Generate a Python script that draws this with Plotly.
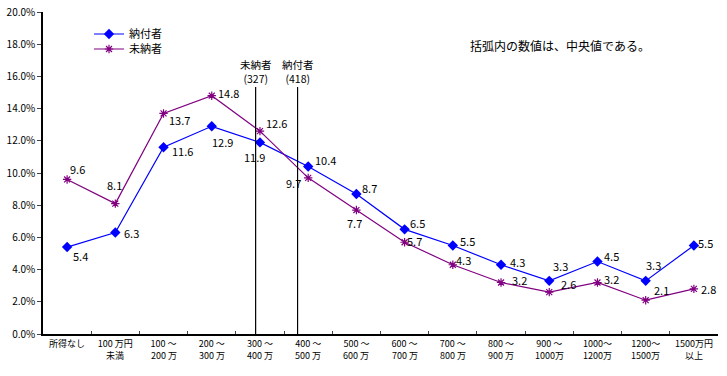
import plotly.graph_objects as go

categories = ["所得なし", "100万円未満", "100～200万", "200～300万", "300～400万", "400～500万",
              "500～600万", "600～700万", "700～800万", "800～900万", "900～1000万",
              "1000～1200万", "1200～1500万", "1500万円以上"]
tick_line1 = ["所得なし", "100 万円", "100 ～", "200 ～", "300 ～", "400 ～", "500 ～", "600 ～",
              "700 ～", "800 ～", "900 ～", "1000～", "1200～", "1500万円"]
tick_line2 = ["", "未満", "200 万", "300 万", "400 万", "500 万", "600 万", "700 万",
              "800 万", "900 万", "1000万", "1200万", "1500万", "以上"]
paid = [5.4, 6.3, 11.6, 12.9, 11.9, 10.4, 8.7, 6.5, 5.5, 4.3, 3.3, 4.5, 3.3, 5.5]
unpaid = [9.6, 8.1, 13.7, 14.8, 12.6, 9.7, 7.7, 5.7, 4.3, 3.2, 2.6, 3.2, 2.1, 2.8]
series_names = ["納付者", "未納者"]
median_names = ["未納者", "納付者"]
median_values = [327, 418]
median_pos = [3.91, 4.78]  # position on the category scale
note_text = "括弧内の数値は、中央値である。"
y_ticks = [0, 2, 4, 6, 8, 10, 12, 14, 16, 18, 20]
y_tick_labels = [f"{v:.1f}%" for v in y_ticks]

# label offsets (pixels, dx right, dy down)
paid_off = [(13, 9), (16, 0), (19, 4), (11, 16), (-5, 15), (17, -7), (13, -6), (13, -6),
            (15, -4), (16, -3), (11, -15), (14, -6), (8, -16), (12, -2)]
unpaid_off = [(10, -10), (-1, -19), (16, 7), (17, -3), (17, -8), (-15, 5), (-2, 13), (10, -1),
              (11, -5), (18, -2), (19, -8), (14, -3), (16, -10), (15, 0)]

FONT = "Noto Sans CJK JP"
BLUE = "#0000FF"
PURPLE = "#800080"

PL, PR, PT, PB = 43, 718, 12, 334  # plot area in window pixels
W, H = 727, 376
PH = PB - PT


def py(ypix):
    return (PB - ypix) / PH


fig = go.Figure()
fig.add_trace(go.Scatter(x=categories, y=paid, name=series_names[0], mode="lines+markers",
                         legend="legend",
                         line=dict(color=BLUE, width=1.2),
                         marker=dict(symbol="diamond", size=8, color=BLUE)))
fig.add_trace(go.Scatter(x=categories, y=unpaid, name=series_names[1], mode="lines+markers",
                         legend="legend2",
                         line=dict(color=PURPLE, width=1.2),
                         marker=dict(symbol="asterisk-open", size=7, color=PURPLE,
                                     line=dict(color=PURPLE, width=1.2))))

annotations = []
for vals, offs in ((paid, paid_off), (unpaid, unpaid_off)):
    for i, (v, (dx, dy)) in enumerate(zip(vals, offs)):
        annotations.append(dict(x=i, y=v, xref="x", yref="y", text=f"{v:.1f}", showarrow=False,
                                xanchor="center", yanchor="middle",
                                xshift=dx, yshift=-dy, font=dict(family=FONT, size=11, color="black")))

# second line of the category labels
for i, t in enumerate(tick_line2):
    if t:
        annotations.append(dict(x=i, y=0, xref="x", yref="paper", text=t, showarrow=False,
                                xanchor="center", yanchor="middle", yshift=-21, borderpad=0,
                                font=dict(family=FONT, size=9, color="black")))

shapes = []
for name, val, pos in zip(median_names, median_values, median_pos):
    shapes.append(dict(type="line", xref="x", yref="paper", x0=pos, x1=pos, y0=0, y1=py(87),
                       line=dict(color="black", width=1.2)))
    annotations.append(dict(x=pos, y=py(87), xref="x", yref="paper", xanchor="center", yanchor="bottom",
                            text=f"{name}<br>({val})", showarrow=False, yshift=0, borderpad=0,
                            font=dict(family=FONT, size=10.5, color="black")))

annotations.append(dict(x=(560 - PL) / (PR - PL), y=py(45), xref="paper", yref="paper",
                        xanchor="center", yanchor="middle", text=note_text, showarrow=False,
                        font=dict(family=FONT, size=12, color="black")))

leg_common = dict(xanchor="left", yanchor="middle", bgcolor="rgba(0,0,0,0)",
                  font=dict(family=FONT, size=11), itemwidth=30, tracegroupgap=0)
fig.update_layout(
    width=W, height=H,
    margin=dict(l=PL, r=W - PR, t=PT, b=H - PB, autoexpand=False),
    paper_bgcolor="white", plot_bgcolor="white",
    font=dict(family=FONT, size=10, color="black"),
    showlegend=True,
    legend=dict(x=(89 - PL) / (PR - PL), y=py(34), **leg_common),
    legend2=dict(x=(89 - PL) / (PR - PL), y=py(49), **leg_common),
    annotations=annotations, shapes=shapes,
)
fig.update_xaxes(type="category", tickson="boundaries", ticks="inside", ticklen=3, tickangle=0,
                 tickmode="array", tickvals=categories, ticktext=tick_line1,
                 showline=True, linecolor="black", linewidth=1.5, showgrid=False, automargin=False,
                 tickfont=dict(family=FONT, size=9), range=[-0.5, 13.5])
fig.update_yaxes(range=[0, 20], tickvals=y_ticks, ticktext=y_tick_labels, ticklabeloverflow="allow",
                 ticks="outside", ticklen=4, showline=True, linecolor="black", linewidth=1.5,
                 showgrid=False, zeroline=False, automargin=False, tickfont=dict(family=FONT, size=10))

fig.write_html("out.html", config={"displayModeBar": False},
               post_script="document.body.style.margin='0px';")
